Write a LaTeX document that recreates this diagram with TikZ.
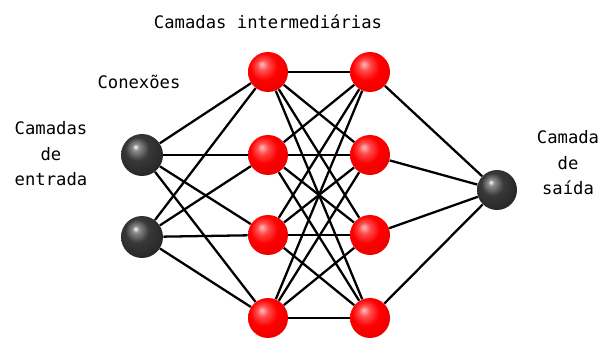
\documentclass[tikz,border=0pt]{standalone}
\usepackage{fontspec}
\setmonofont{DejaVu Sans Mono}
\usepackage{tikz}
\usetikzlibrary{shapes,arrows,positioning,calc}
\pgfdeclareradialshading{redball}{\pgfpoint{-8bp}{10bp}}{color(0bp)=(red!25!white); color(7bp)=(red!70!white); color(17bp)=(red); color(32bp)=(red!92!black); color(50bp)=(red!80!black)}
\pgfdeclareradialshading{blackball}{\pgfpoint{-8bp}{10bp}}{color(0bp)=(white); color(4bp)=(black!45); color(14bp)=(black!78); color(30bp)=(black!85); color(50bp)=(black)}

\begin{document}
\begin{tikzpicture}[x=0.02cm, y=-0.02cm,
    label/.style={font=\ttfamily\fontsize{9.8}{14.5}\selectfont, align=center}]
    \useasboundingbox (0,0) rectangle (601,340);

    % Input layer
    \foreach \y/\py in {1/155,2/237} {
        \node[circle, shading=blackball, minimum size=0.84cm] (i\y) at (142,\py) {};
    }

    % Hidden layer 1
    \foreach \y/\py in {1/72,2/155,3/235,4/318} {
        \node[circle, shading=redball, minimum size=0.8cm] (h1\y) at (268,\py) {};
    }

    % Hidden layer 2
    \foreach \y/\py in {1/72,2/155,3/235,4/318} {
        \node[circle, shading=redball, minimum size=0.8cm] (h2\y) at (370,\py) {};
    }

    % Output layer
    \node[circle, shading=blackball, minimum size=0.8cm] (o1) at (497,190) {};

    % Labels
    \node[label] (lhid) at (268,22) {Camadas intermediárias};
    \node[label] (lcon) at (139,82) {Conexões};
    \node[label] (lin) at (51,154) {Camadas\\de\\entrada};
    \node[label] (lout) at (568,163) {Camada\\de\\saída};

    % Connections
    \foreach \i in {1,2} {
        \foreach \h in {1,2,3,4} {
            \draw[black, line width=1.3pt] (i\i) -- (h1\h);
        }
    }
    \foreach \i in {1,2,3,4} {
        \foreach \h in {1,2,3,4} {
            \draw[black, line width=1.3pt] (h1\i) -- (h2\h);
        }
    }
    \foreach \i in {1,2,3,4} {
        \draw[black, line width=1.3pt] (h2\i) -- (o1);
    }
\end{tikzpicture}
\end{document}
